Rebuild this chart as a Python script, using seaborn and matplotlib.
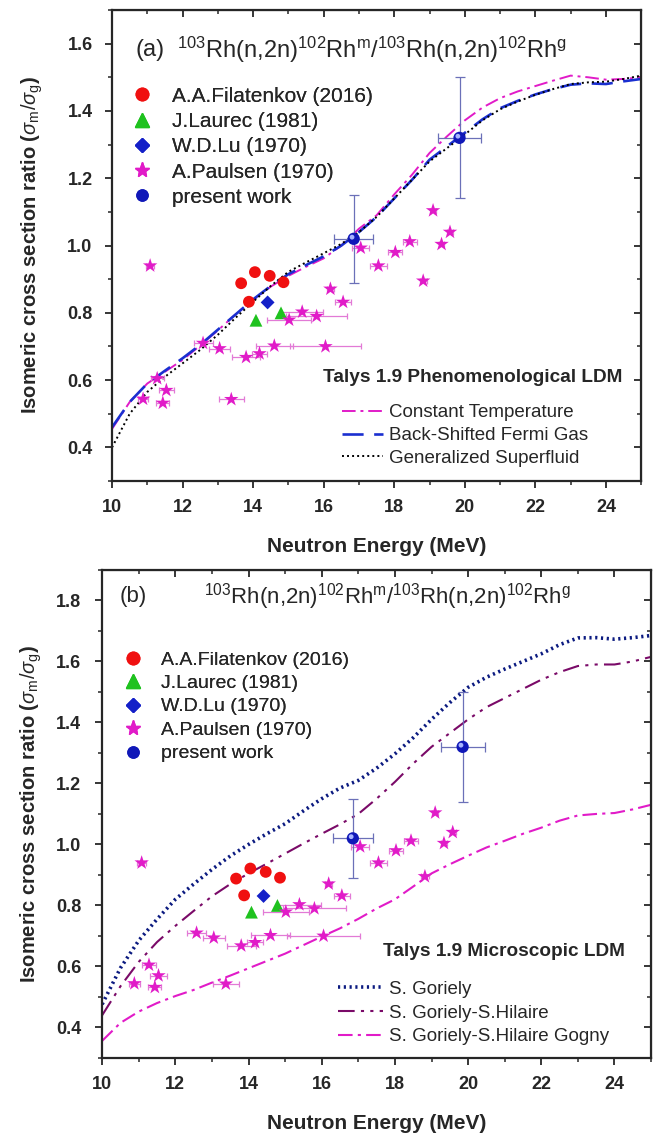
import numpy as np
import pandas as pd
import matplotlib
matplotlib.use('Agg')
import matplotlib.pyplot as plt
import matplotlib.transforms as mtransforms
from matplotlib.lines import Line2D
from matplotlib.ticker import MultipleLocator, FormatStrFormatter
import seaborn as sns

# --- experimental data ---
filatenkov_e = [13.66, 13.88, 14.05, 14.47, 14.86]
filatenkov_r = [0.888, 0.833, 0.921, 0.910, 0.891]

laurec_e = [14.08, 14.79]
laurec_r = [0.778, 0.800]

lu_e = [14.41]
lu_r = [0.831]

paulsen_e = [10.88, 11.08, 11.28, 11.44, 11.54, 12.58, 13.05, 13.38, 13.80, 14.18,
             14.60, 15.02, 15.39, 15.80, 16.05, 16.19, 16.55, 17.05, 17.55, 18.03,
             18.44, 18.82, 19.10, 19.34, 19.58]
paulsen_r = [0.544, 0.940, 0.605, 0.532, 0.570, 0.710, 0.694, 0.543, 0.668, 0.679,
             0.702, 0.779, 0.803, 0.790, 0.700, 0.871, 0.832, 0.993, 0.940, 0.980,
             1.012, 0.895, 1.104, 1.004, 1.040]
paulsen_dx = [0.15, 0.12, 0.18, 0.18, 0.22, 0.27, 0.30, 0.36, 0.40, 0.22,
              0.52, 0.62, 0.60, 0.86, 1.00, 0.10, 0.22, 0.24, 0.24, 0.20,
              0.20, 0.10, 0.08, 0.08, 0.08]

present_e = [16.85, 19.85]
present_r = [1.02, 1.32]
present_dx = [0.55, 0.60]
present_dr = [0.13, 0.18]

# --- TALYS curves ---
talys_e = [10, 10.5, 11, 11.5, 12, 12.5, 13, 13.5, 14, 14.5, 15, 15.5, 16, 16.5, 17,
           17.5, 18, 18.5, 19, 19.5, 20, 20.5, 21, 21.5, 22, 22.5, 23, 23.5, 24, 24.5, 25]
ct = [0.455, 0.535, 0.590, 0.625, 0.660, 0.703, 0.748, 0.795, 0.838, 0.878, 0.910,
      0.937, 0.962, 1.000, 1.050, 1.090, 1.152, 1.210, 1.275, 1.325, 1.372, 1.410,
      1.438, 1.458, 1.474, 1.490, 1.505, 1.500, 1.493, 1.495, 1.500]
bsfg = [0.460, 0.535, 0.590, 0.628, 0.665, 0.705, 0.750, 0.795, 0.840, 0.880, 0.915,
        0.942, 0.968, 1.000, 1.040, 1.085, 1.140, 1.195, 1.255, 1.295, 1.335, 1.375,
        1.408, 1.430, 1.449, 1.465, 1.478, 1.482, 1.480, 1.488, 1.495]
gsf = [0.400, 0.500, 0.565, 0.610, 0.650, 0.690, 0.735, 0.785, 0.833, 0.880, 0.922,
       0.950, 0.977, 1.005, 1.040, 1.085, 1.140, 1.195, 1.250, 1.290, 1.330, 1.372,
       1.405, 1.428, 1.448, 1.465, 1.480, 1.485, 1.487, 1.495, 1.505]
goriely = [0.476, 0.595, 0.685, 0.755, 0.820, 0.870, 0.918, 0.962, 1.000, 1.035, 1.068,
           1.110, 1.150, 1.185, 1.210, 1.250, 1.297, 1.350, 1.410, 1.465, 1.515, 1.548,
           1.575, 1.600, 1.625, 1.655, 1.677, 1.678, 1.673, 1.678, 1.685]
goriely_hilaire = [0.440, 0.535, 0.615, 0.680, 0.733, 0.782, 0.830, 0.870, 0.905, 0.937,
                   0.970, 1.003, 1.035, 1.066, 1.100, 1.150, 1.205, 1.265, 1.320, 1.365,
                   1.410, 1.450, 1.480, 1.510, 1.540, 1.565, 1.585, 1.590, 1.590, 1.600, 1.615]
gogny = [0.356, 0.415, 0.452, 0.480, 0.503, 0.523, 0.547, 0.570, 0.594, 0.618, 0.642,
         0.670, 0.698, 0.725, 0.756, 0.790, 0.820, 0.862, 0.905, 0.935, 0.963, 0.990,
         1.012, 1.035, 1.055, 1.078, 1.095, 1.100, 1.103, 1.115, 1.130]

point_labels = ['A.A.Filatenkov (2016)', 'J.Laurec (1981)', 'W.D.Lu (1970)',
                'A.Paulsen (1970)', 'present work']

reaction = (r'$^{\rm 103}$Rh(n,2n)$^{\rm 102}$Rh$^{\rm m}$/'
            r'$^{\rm 103}$Rh(n,2n)$^{\rm 102}$Rh$^{\rm g}$')

sns.set_style('ticks')
plt.rcParams['font.family'] = ['Liberation Sans', 'DejaVu Sans']
plt.rcParams['mathtext.fontset'] = 'custom'
plt.rcParams['mathtext.rm'] = 'Liberation Sans'
plt.rcParams['mathtext.it'] = 'Liberation Sans:italic'
plt.rcParams['mathtext.bf'] = 'Liberation Sans:bold'

MAG = '#e11bc8'


def draw_points(ax):
    ax.errorbar(paulsen_e, paulsen_r, xerr=paulsen_dx, fmt='none', ecolor='#e27ad6',
                elinewidth=0.9, capsize=2.5, capthick=0.9, zorder=3)
    sns.scatterplot(x=filatenkov_e, y=filatenkov_r, ax=ax, marker='o', s=72,
                    color='#f01010', edgecolor='none', zorder=5)
    sns.scatterplot(x=laurec_e, y=laurec_r, ax=ax, marker='^', s=85,
                    color='#1fc21f', edgecolor='none', zorder=5)
    sns.scatterplot(x=lu_e, y=lu_r, ax=ax, marker='D', s=50,
                    color='#1420c8', edgecolor='none', zorder=5)
    sns.scatterplot(x=paulsen_e, y=paulsen_r, ax=ax, marker='*', s=120,
                    color=MAG, edgecolor='none', zorder=5)
    ax.errorbar(present_e, present_r, xerr=present_dx, yerr=present_dr, fmt='none',
                ecolor='#6b70b8', elinewidth=0.9, capsize=3.5, capthick=0.9, zorder=4)
    sns.scatterplot(x=present_e, y=present_r, ax=ax, marker='o', s=78,
                    color='#1018b8', edgecolor='none', zorder=6)
    hl = mtransforms.offset_copy(ax.transData, fig=ax.figure, x=-1.2, y=1.2, units='points')
    ax.scatter(present_e, present_r, s=12, color='#a8b4ff', edgecolor='none',
               transform=hl, zorder=7)


def point_legend(ax, anchor, fs, pad, spacing):
    handles = [
        Line2D([], [], marker='o', ls='none', color='#f01010', ms=9),
        Line2D([], [], marker='^', ls='none', color='#1fc21f', ms=9.5),
        Line2D([], [], marker='D', ls='none', color='#1420c8', ms=7),
        Line2D([], [], marker='*', ls='none', color=MAG, ms=11),
        Line2D([], [], marker='o', ls='none', color='#1018b8', ms=8),
    ]
    leg = ax.legend(handles, point_labels, loc='upper left', bbox_to_anchor=anchor,
                    frameon=False, fontsize=fs, handlelength=1.0, handletextpad=pad,
                    labelspacing=spacing, borderaxespad=0, borderpad=0)
    ax.add_artist(leg)


def line_legend(ax, anchor, hlen, spacing):
    handles = ax.get_lines()[:3]
    leg = ax.legend(handles, [h.get_label() for h in handles], loc='upper left',
                    bbox_to_anchor=anchor, frameon=False, fontsize=13.5,
                    handlelength=hlen, handletextpad=0.32, labelspacing=spacing,
                    borderaxespad=0, borderpad=0)
    ax.add_artist(leg)


def style_axes(ax, ylim, ypad, ylabelpad):
    ax.set_xlim(10, 25)
    ax.set_ylim(*ylim)
    ax.xaxis.set_major_locator(MultipleLocator(2))
    ax.xaxis.set_minor_locator(MultipleLocator(1))
    ax.yaxis.set_major_locator(MultipleLocator(0.2))
    ax.yaxis.set_minor_locator(MultipleLocator(0.1))
    ax.yaxis.set_major_formatter(FormatStrFormatter('%.1f'))
    ax.tick_params(which='major', direction='out', length=5, width=1.3, labelsize=13)
    ax.tick_params(axis='y', which='major', pad=ypad)
    ax.tick_params(axis='x', which='major', pad=8)
    ax.tick_params(which='minor', direction='out', length=3, width=1.1)
    for lab in ax.get_xticklabels() + ax.get_yticklabels():
        lab.set_fontweight('bold')
    for sp in ax.spines.values():
        sp.set_linewidth(1.6)
        sp.set_visible(True)
    # mirrored ticks pointing inward on top and right
    top = ax.secondary_xaxis('top')
    top.xaxis.set_major_locator(MultipleLocator(2))
    top.xaxis.set_minor_locator(MultipleLocator(1))
    top.tick_params(which='major', direction='in', length=5, width=1.3, labeltop=False)
    top.tick_params(which='minor', direction='in', length=3, width=1.1)
    right = ax.secondary_yaxis('right')
    right.yaxis.set_major_locator(MultipleLocator(0.2))
    right.yaxis.set_minor_locator(MultipleLocator(0.1))
    right.tick_params(which='major', direction='in', length=5, width=1.3, labelright=False)
    right.tick_params(which='minor', direction='in', length=3, width=1.1)
    ax.set_xlabel('Neutron Energy (MeV)', fontsize=15, fontweight='bold', labelpad=15)
    ax.set_ylabel(r'Isomeric cross section ratio ($\sigma_{\rm m}/\sigma_{\rm g}$)',
                  fontsize=14.5, fontweight='bold', labelpad=ylabelpad)


fig = plt.figure(figsize=(6.59, 11.36), dpi=100)
ax1 = fig.add_axes([0.170, 0.5765, 0.803, 0.4147])
ax2 = fig.add_axes([0.155, 0.0687, 0.833, 0.4296])

# ---------- panel (a) ----------
sns.lineplot(x=talys_e, y=ct, ax=ax1, color=MAG, lw=1.4,
             linestyle=(0, (7, 2.5, 1.5, 2.5)), label='Constant Temperature')
sns.lineplot(x=talys_e, y=bsfg, ax=ax1, color='#1a2fd0', lw=1.9,
             linestyle=(0, (8, 4)), label='Back-Shifted Fermi Gas')
sns.lineplot(x=talys_e, y=gsf, ax=ax1, color='black', lw=1.4,
             linestyle=(0, (1, 1.6)), label='Generalized Superfluid')
draw_points(ax1)
line_legend(ax1, (0.435, 0.163), 2.2, 0.30)
point_legend(ax1, (0.037, 0.837), 15, 0.94, 0.30)
style_axes(ax1, (0.3, 1.7), 9, 16)
ax1.text(0.0435, 0.915, '(a)', transform=ax1.transAxes, fontsize=17, va='center')
ax1.text(0.123, 0.915, reaction, transform=ax1.transAxes, fontsize=17, va='center')
ax1.text(0.964, 0.219, 'Talys 1.9 Phenomenological LDM', transform=ax1.transAxes,
         fontsize=13.7, fontweight='bold', va='center', ha='right')

# ---------- panel (b) ----------
sns.lineplot(x=talys_e, y=goriely, ax=ax2, color='#0b1a80', lw=2.6,
             linestyle=(0, (0.6, 1.0)), label='S. Goriely')
sns.lineplot(x=talys_e, y=goriely_hilaire, ax=ax2, color='#7a0a68', lw=1.5,
             linestyle=(0, (8, 3, 1.5, 3, 1.5, 3)), label='S. Goriely-S.Hilaire')
sns.lineplot(x=talys_e, y=gogny, ax=ax2, color=MAG, lw=1.5,
             linestyle=(0, (7, 2.5, 1.5, 2.5)), label='S. Goriely-S.Hilaire Gogny')
draw_points(ax2)
line_legend(ax2, (0.43, 0.158), 2.4, 0.35)
point_legend(ax2, (0.038, 0.834), 14, 0.96, 0.30)
style_axes(ax2, (0.3, 1.9), 10, 9)
ax2.text(0.032, 0.945, '(b)', transform=ax2.transAxes, fontsize=16, va='center')
ax2.text(0.186, 0.945, reaction, transform=ax2.transAxes, fontsize=16, va='center')
ax2.text(0.953, 0.219, 'Talys 1.9 Microscopic LDM', transform=ax2.transAxes,
         fontsize=13.7, fontweight='bold', va='center', ha='right')

fig.savefig('out.png', dpi=100)
